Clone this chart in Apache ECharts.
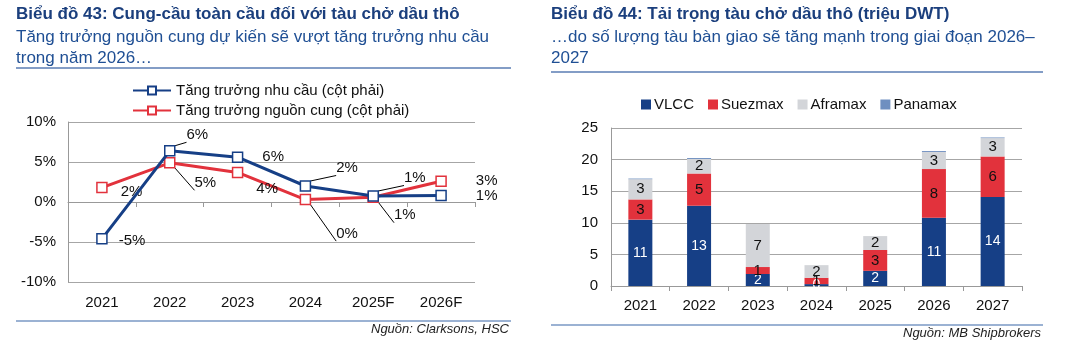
<!DOCTYPE html>
<html>
<head>
<meta charset="utf-8">
<script src="https://cdn.jsdelivr.net/npm/echarts@6/dist/echarts.min.js"></script>
<style>
  html, body { margin: 0; padding: 0; background: #fff; }
  #chart { width: 1085px; height: 352px; }
</style>
</head>
<body>
<div id="chart"></div>
<script>
// Biểu đồ 43 - tăng trưởng cung/cầu (%)
var years43 = ['2021', '2022', '2023', '2024', '2025F', '2026F'];
var demandGrowth = [-4.6, 6.4, 5.6, 2.0, 0.75, 0.8];
var supplyGrowth = [1.8, 4.9, 3.7, 0.3, 0.6, 2.6];
var pctTicks = [-10, -5, 0, 5, 10];

// Biểu đồ 44 - tải trọng (triệu DWT)
var years44 = ['2021', '2022', '2023', '2024', '2025', '2026', '2027'];
var vlcc = [10.5, 12.7, 1.9, 0.3, 2.4, 10.8, 14.1];
var suezmax = [3.2, 5.1, 1.1, 1.0, 3.3, 7.7, 6.4];
var aframax = [3.2, 2.3, 6.8, 2.0, 2.2, 2.7, 2.9];
var panamax = [0.1, 0.15, 0, 0, 0, 0.15, 0.1];

var FONT = '"Liberation Sans", Arial, sans-serif';
var NAVY = '#1b3f7d';
var BLUE = '#163f86';
var RED = '#e2323c';
var GREY = '#d3d5d9';
var STEEL = '#6f8fc0';

/** vị trí nhãn biểu đồ 43: [dx, dy, có đường dẫn] **/
var demandLbl = [[6, 2, false], [6, -16, true], [14, 0, false], [20, -18, true], [20, -18, true], [24, 0, false]];
var supplyLbl = [[8, 4, false], [14, 20, true], [8, 16, false], [20, 34, true], [10, 18, true], [24, 0, false]];

function lineData(values, placement) {
    return values.map(function (v, i) {
        var p = placement[i];
        return {
            value: v,
            label: { offset: [p[0], p[1]] },
            labelLine: { show: p[2], length2: 0, lineStyle: { color: '#000', width: 1 } }
        };
    });
}

function barLabel(color, size) {
    return {
        show: true,
        position: 'inside',
        color: color,
        fontSize: size,
        fontFamily: FONT,
        formatter: function (p) { return Math.round(p.value); }
    };
}

function headerGraphics(x, x2, lineY, title, sub1, sub2, srcY, srcLineY, src) {
    return [
        { type: 'text', left: x, top: 6, style: { text: title, font: 'bold 17px ' + FONT, fill: NAVY } },
        { type: 'text', left: x, top: 29, style: { text: sub1, font: '17px ' + FONT, fill: '#1f4f94' } },
        { type: 'text', left: x, top: 50, style: { text: sub2, font: '17px ' + FONT, fill: '#1f4f94' } },
        { type: 'line', shape: { x1: x, y1: lineY, x2: x2, y2: lineY }, style: { stroke: '#5a7db3', lineWidth: 1.5 } },
        { type: 'line', shape: { x1: x, y1: srcLineY, x2: x2, y2: srcLineY }, style: { stroke: '#7a98c4', lineWidth: 1.5 } },
        { type: 'text', right: 1085 - x2 + 2, top: srcY, style: { text: src, font: 'italic 13px ' + FONT, fill: '#222' } }
    ];
}

var option = {
    animation: false,
    textStyle: { fontFamily: FONT },
    graphic: headerGraphics(16, 511, 68, 'Biểu đồ 43: Cung-cầu toàn cầu đối với tàu chở dầu thô',
        'Tăng trưởng nguồn cung dự kiến sẽ vượt tăng trưởng nhu cầu', 'trong năm 2026…', 323, 321, 'Nguồn: Clarksons, HSC')
        .concat(headerGraphics(551, 1043, 72, 'Biểu đồ 44: Tải trọng tàu chở dầu thô (triệu DWT)',
        '…do số lượng tàu bàn giao sẽ tăng mạnh trong giai đoạn 2026–', '2027', 327, 325, 'Nguồn: MB Shipbrokers')),
    legend: [{
        orient: 'vertical',
        left: 127, top: 78,
        itemWidth: 38, itemHeight: 10, itemGap: 5,
        textStyle: { fontSize: 15, color: '#111', fontFamily: FONT },
        data: ['Tăng trưởng nhu cầu (cột phải)', 'Tăng trưởng nguồn cung (cột phải)']
    }, {
        left: 636, top: 92,
        itemWidth: 10, itemHeight: 10, itemGap: 14,
        icon: 'rect',
        textStyle: { fontSize: 15, color: '#111', fontFamily: FONT, padding: [0, 0, 0, -2] },
        data: ['VLCC', 'Suezmax', 'Aframax', 'Panamax']
    }],
    grid: [
        { left: 68, right: 610, top: 122, bottom: 70 },
        { left: 611, right: 63, top: 128, bottom: 66 }
    ],
    xAxis: [{
        gridIndex: 0, type: 'category', data: years43,
        axisLine: { onZero: true, lineStyle: { color: '#999' } },
        axisTick: { show: true, length: 5, lineStyle: { color: '#999' } },
        axisLabel: { show: false }
    }, {
        gridIndex: 0, type: 'category', data: years43, position: 'bottom',
        axisLine: { onZero: false, show: false },
        axisTick: { show: false },
        axisLabel: { fontSize: 15, color: '#111', margin: 13 }
    }, {
        gridIndex: 1, type: 'category', data: years44,
        axisLine: { lineStyle: { color: '#999' } },
        axisTick: { show: true, length: 5, lineStyle: { color: '#999' } },
        axisLabel: { fontSize: 15, color: '#111', margin: 12 }
    }],
    yAxis: [{
        gridIndex: 0, type: 'value',
        min: pctTicks[0], max: pctTicks[pctTicks.length - 1], interval: 5,
        axisLine: { show: true, lineStyle: { color: '#999' } },
        axisTick: { show: false },
        splitLine: { lineStyle: { color: '#a6a6a6' } },
        axisLabel: { fontSize: 15, color: '#111', margin: 12, formatter: '{value}%' }
    }, {
        gridIndex: 1, type: 'value', min: 0, max: 25, interval: 5,
        axisLine: { show: true, lineStyle: { color: '#999' } },
        axisTick: { show: false },
        splitLine: { lineStyle: { color: '#a6a6a6' } },
        axisLabel: { fontSize: 15, color: '#111', margin: 13 }
    }],
    series: [{
        name: 'Tăng trưởng nhu cầu (cột phải)',
        type: 'line', xAxisIndex: 0, yAxisIndex: 0,
        data: lineData(demandGrowth, demandLbl),
        symbol: 'rect', symbolSize: 10, z: 3,
        lineStyle: { color: BLUE, width: 3 },
        itemStyle: { color: '#fff', borderColor: BLUE, borderWidth: 1.5 },
        label: { show: true, position: 'right', fontSize: 15, color: '#111',
            formatter: function (p) { return Math.round(p.value) + '%'; } }
    }, {
        name: 'Tăng trưởng nguồn cung (cột phải)',
        type: 'line', xAxisIndex: 0, yAxisIndex: 0,
        data: lineData(supplyGrowth, supplyLbl),
        symbol: 'rect', symbolSize: 10, z: 2,
        lineStyle: { color: RED, width: 3 },
        itemStyle: { color: '#fff', borderColor: RED, borderWidth: 1.5 },
        label: { show: true, position: 'right', fontSize: 15, color: '#111',
            formatter: function (p) { return Math.round(p.value) + '%'; } }
    }, {
        name: 'VLCC', type: 'bar', stack: 'dwt', xAxisIndex: 2, yAxisIndex: 1,
        barWidth: 24, data: vlcc, itemStyle: { color: BLUE },
        label: barLabel('#fff', 14)
    }, {
        name: 'Suezmax', type: 'bar', stack: 'dwt', xAxisIndex: 2, yAxisIndex: 1,
        data: suezmax, itemStyle: { color: RED },
        label: barLabel('#111', 15)
    }, {
        name: 'Aframax', type: 'bar', stack: 'dwt', xAxisIndex: 2, yAxisIndex: 1,
        data: aframax, itemStyle: { color: GREY },
        label: barLabel('#111', 15)
    }, {
        name: 'Panamax', type: 'bar', stack: 'dwt', xAxisIndex: 2, yAxisIndex: 1,
        data: panamax, itemStyle: { color: STEEL }
    }]
};

var myEcharts = echarts.init(document.getElementById('chart'), null, { renderer: 'canvas' });
myEcharts.setOption(option);
</script>
</body>
</html>
